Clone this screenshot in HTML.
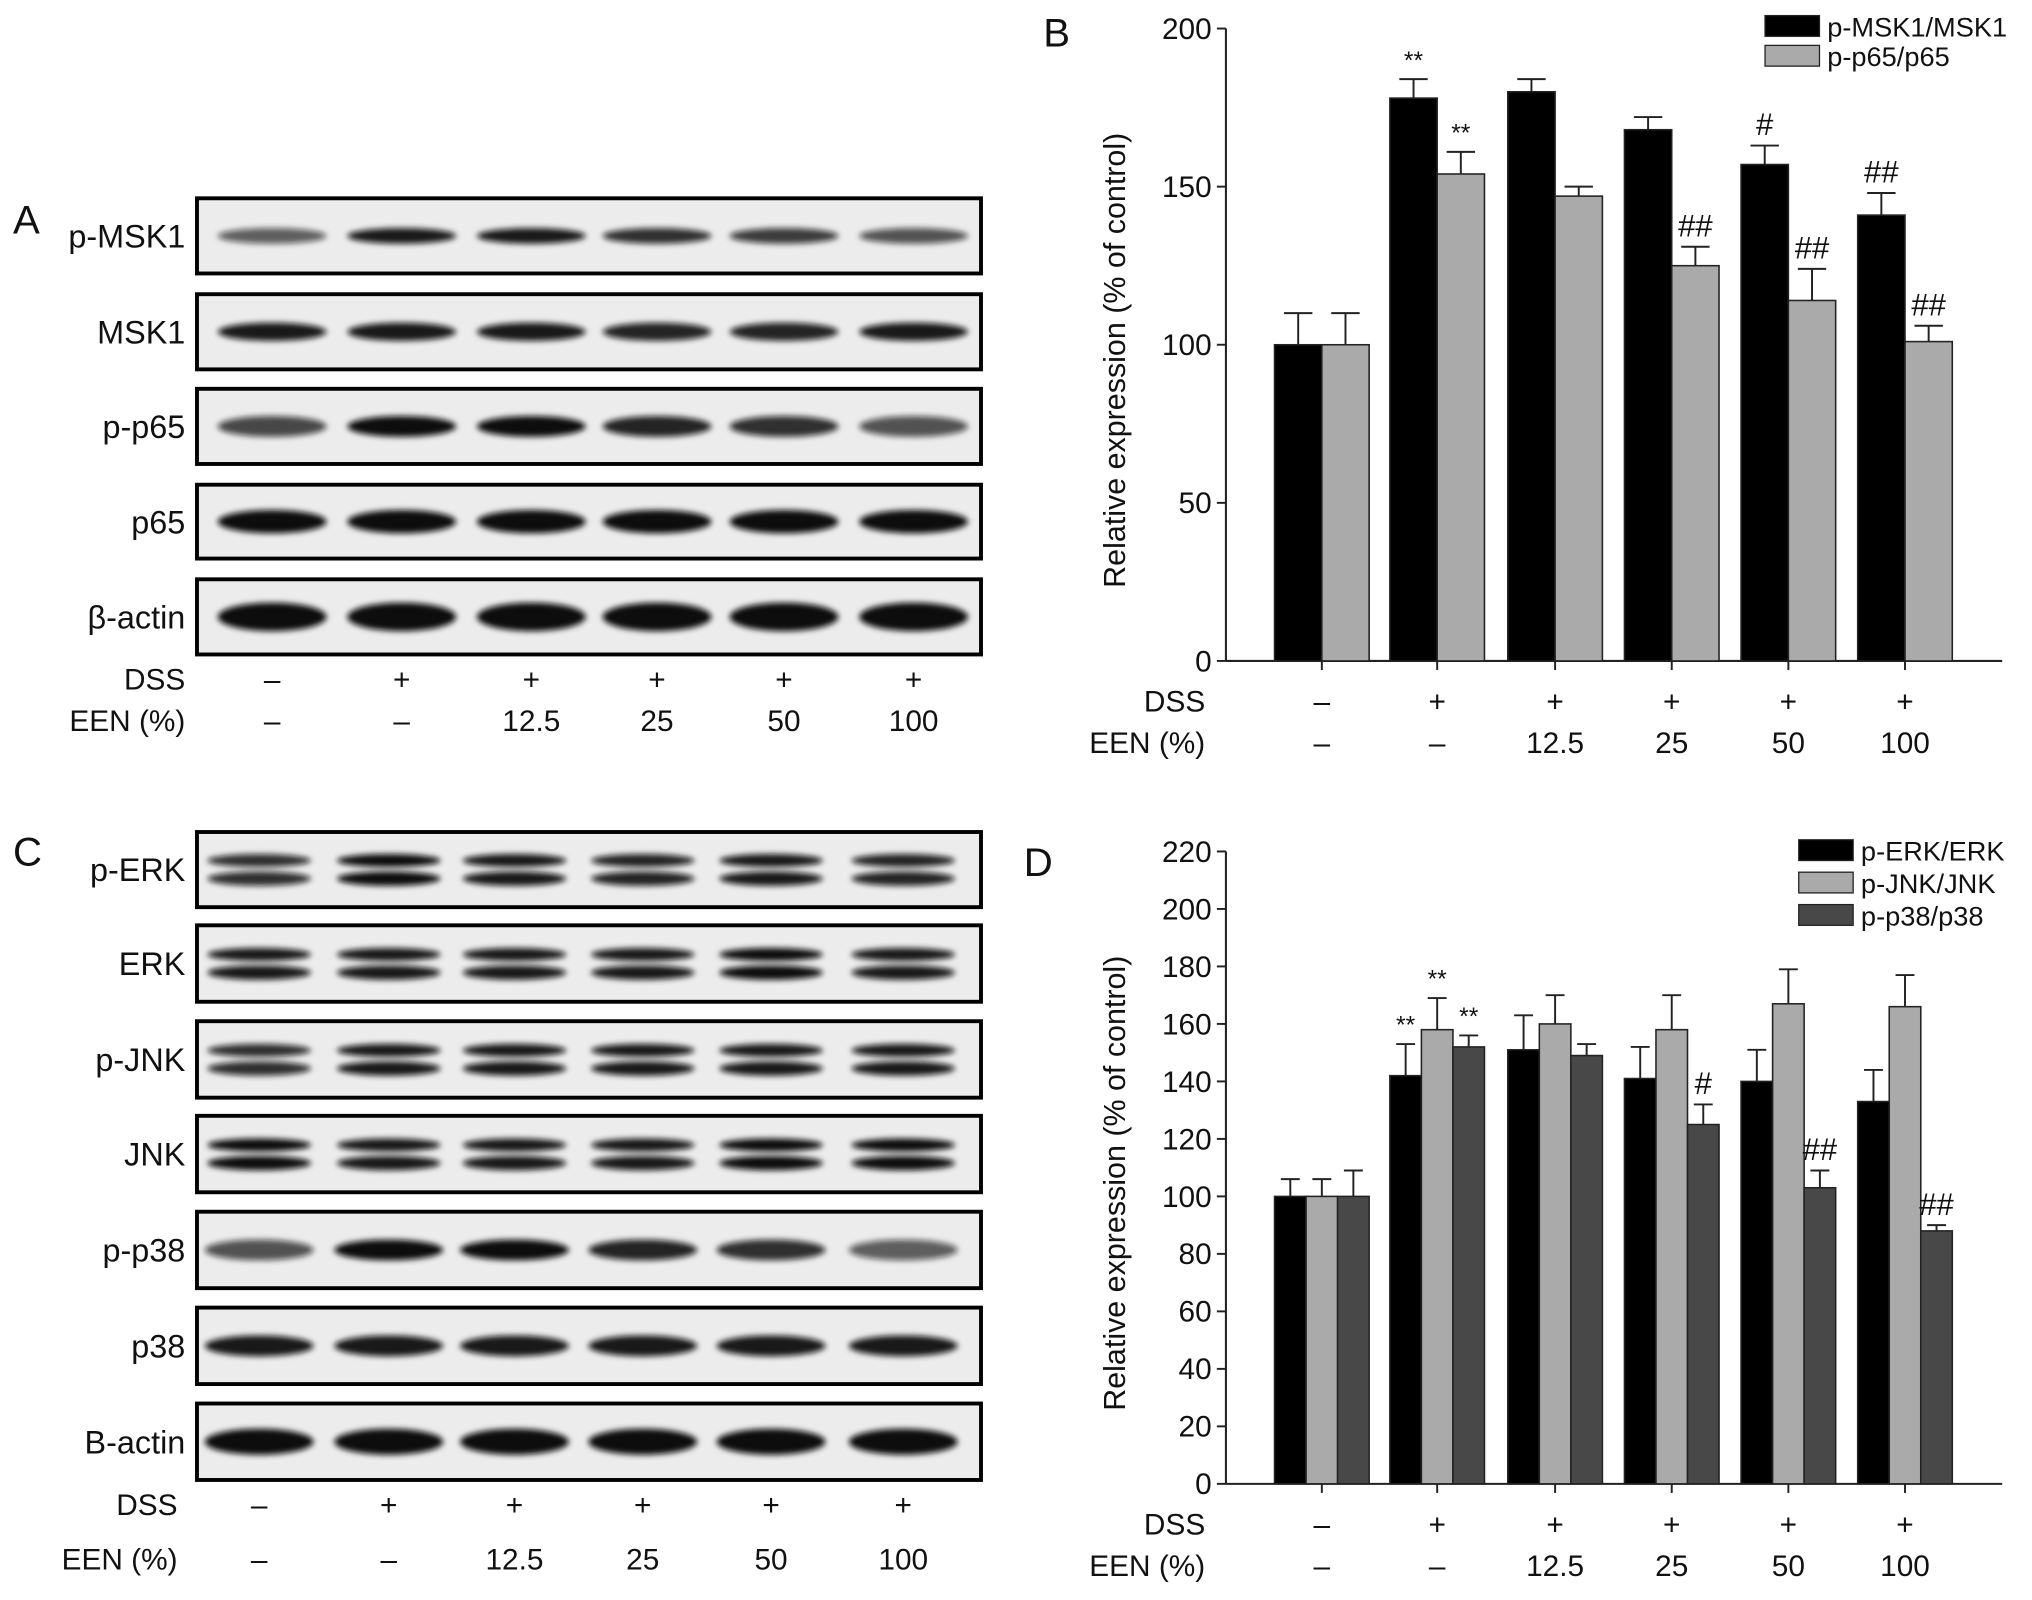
<!DOCTYPE html>
<html><head><meta charset="utf-8">
<style>
html,body{margin:0;padding:0;background:#fff;}
svg{display:block;font-family:"Liberation Sans",sans-serif;}
</style></head>
<body>
<svg id="fig" xmlns="http://www.w3.org/2000/svg" width="2032" height="1600" viewBox="0 0 1568 1234.6">
<defs>
<filter id="blur" x="-20%" y="-100%" width="140%" height="300%"><feGaussianBlur stdDeviation="2.2"/></filter>
</defs>
<g id="root"></g>
</svg>
<script>
// ---- Chart B data ----
const bGroups = ["1","2","3","4","5","6"];
const bMSK = [100,178,180,168,157,141];
const bMSKerr = [10,6,4,4,6,7];
const bP65 = [100,154,147,125,114,101];
const bP65err = [10,7,3,6,10,5];
const bTicks = [0,50,100,150,200];
// ---- Chart D data ----
const dERK = [100,142,151,141,140,133];
const dERKerr = [6,11,12,11,11,11];
const dJNK = [100,158,160,158,167,166];
const dJNKerr = [6,11,10,12,12,11];
const dP38 = [100,152,149,125,103,88];
const dP38err = [9,4,4,7,6,2];
const dTicks = [0,20,40,60,80,100,120,140,160,180,200,220];
const dssLabels = ["\u2013","+","+","+","+","+"];
const eenLabels = ["\u2013","\u2013","12.5","25","50","100"];

const NS="http://www.w3.org/2000/svg";
const root=document.getElementById('root');
function mk(tag,attrs,parent){const e=document.createElementNS(NS,tag);for(const k in attrs)e.setAttribute(k,attrs[k]);(parent||root).appendChild(e);return e;}
function txt(x,y,s,size,anchor,parent){const t=mk('text',{x:x,y:y,'font-size':size,'text-anchor':anchor||'middle',fill:'#111'},parent);t.textContent=s;return t;}

function barChart(cfg){
  const g=mk('g',{});
  
  
  const x0=946,xEnd=1545,y0=cfg.y0,yTop=cfg.yTop,max=cfg.max;
  const yS=v=>y0-(v/max)*(y0-yTop);
  const centers=[1020,1109,1200,1290,1380,1470];
  mk('line',{x1:x0,y1:yTop,x2:x0,y2:y0,stroke:'#222','stroke-width':1.6},g);
  mk('line',{x1:x0,y1:y0,x2:xEnd,y2:y0,stroke:'#222','stroke-width':1.6},g);
  cfg.ticks.forEach(t=>{
    const y=yS(t);
    mk('line',{x1:x0-7,y1:y,x2:x0,y2:y,stroke:'#222','stroke-width':1.5},g);
    const l=txt(x0-11,y+8,String(t),23,'end',g);
    
    
  });
  const n=cfg.series.length, total=73, bw=total/n;
  cfg.series.forEach((s,si)=>{
    s.vals.forEach((v,i)=>{
      const bx=centers[i]-total/2+si*bw;
      const top=yS(v), et=yS(v+s.err[i]);
      const r=mk('rect',{x:bx,y:top,width:bw,height:y0-top,fill:s.color,stroke:'#222','stroke-width':1.2},g);
      
      
      const cx=bx+bw/2;
      mk('line',{x1:cx,y1:top,x2:cx,y2:et,stroke:'#222','stroke-width':1.5},g);
      mk('line',{x1:cx-bw*0.3,y1:et,x2:cx+bw*0.3,y2:et,stroke:'#222','stroke-width':1.5},g);
      if(s.ann[i]){
        const a=txt(cx,et-8,s.ann[i],s.ann[i].startsWith('*')?19:24,'middle',g);
        
        
      }
    });
  });
  centers.forEach(c=>mk('line',{x1:c,y1:y0,x2:c,y2:y0+7,stroke:'#222','stroke-width':1.5},g));
  txt(930,y0+39,'DSS',23,'end',g);
  txt(930,y0+71,'EEN (%)',23,'end',g);
  centers.forEach((c,i)=>{txt(c,y0+39,dssLabels[i],23,'middle',g);txt(c,y0+71,eenLabels[i],23,'middle',g);});
  const yl=mk('text',{x:0,y:0,'font-size':23.5,'text-anchor':'middle',fill:'#111',transform:`translate(868,${(y0+yTop)/2+12}) rotate(-90)`},g);
  yl.textContent='Relative expression (% of control)';
  
  
  cfg.series.forEach((s,si)=>{
    const ly=cfg.legY+si*cfg.legStep;
    const lg=mk('g',{},g);
    
    
    mk('rect',{x:cfg.legX,y:ly-8,width:42,height:16,fill:s.color,stroke:'#222','stroke-width':1},lg);
    txt(cfg.legX+48,ly+8,s.label,21,'start',lg);
  });
  const L=txt(cfg.letterX,cfg.letterY,cfg.letter,31,'start',g);
  
  
}

barChart({name:'chart-b',y0:510,yTop:22,max:200,ticks:bTicks,legX:1362,legY:20,legStep:23,letter:'B',letterX:805,letterY:36,
  series:[
    {key:'p-msk1',label:'p-MSK1/MSK1',color:'#000',vals:bMSK,err:bMSKerr,ann:['','**','','','#','##']},
    {key:'p-p65',label:'p-p65/p65',color:'#aaa',vals:bP65,err:bP65err,ann:['','**','','##','##','##']}
  ]});
barChart({name:'chart-d',y0:1145,yTop:657,max:220,ticks:dTicks,legX:1388,legY:656,legStep:25,letter:'D',letterX:790,letterY:676,
  series:[
    {key:'p-erk',label:'p-ERK/ERK',color:'#000',vals:dERK,err:dERKerr,ann:['','**','','','','']},
    {key:'p-jnk',label:'p-JNK/JNK',color:'#aaa',vals:dJNK,err:dJNKerr,ann:['','**','','','','']},
    {key:'p-p38',label:'p-p38/p38',color:'#484848',vals:dP38,err:dP38err,ann:['','**','','#','##','##']}
  ]});

function blot(name,label,y1,y2,lanes,intens,dbl,thick){
  const g=mk('g',{});
  
  
  mk('rect',{x:152,y:y1,width:605,height:y2-y1,fill:'#ececec',stroke:'#000','stroke-width':3},g);
  const mid=(y1+y2)/2;
  lanes.forEach((c,i)=>{
    const op=intens[i];
    if(dbl){
      mk('ellipse',{cx:c,cy:mid-7,rx:40,ry:5,fill:'#111','fill-opacity':op,filter:'url(#blur)'},g);
      mk('ellipse',{cx:c,cy:mid+7,rx:40,ry:5.5,fill:'#111','fill-opacity':op,filter:'url(#blur)'},g);
    }else{
      mk('ellipse',{cx:c,cy:mid,rx:42,ry:thick,fill:'#111','fill-opacity':op,filter:'url(#blur)'},g);
    }
  });
  txt(143,mid+9,label,25,'end',g);
}
const lanesA=[210,310,410,507,605,705];
blot('p-msk1','p-MSK1',153,211,lanesA,[0.65,0.95,0.95,0.85,0.8,0.7],false,6);
blot('msk1','MSK1',227,285,lanesA,[0.95,0.95,0.95,0.9,0.9,0.95],false,7);
blot('p-p65','p-p65',300,358,lanesA,[0.75,1,1,0.9,0.85,0.7],false,8);
blot('p65','p65',374,431,lanesA,[1,1,1,1,1,1],false,9);
blot('b-actin-a','β-actin',447,505,lanesA,[1,1,1,1,1,1],false,11);
const La=txt(10,180,'A',31,'start');
txt(143,532,'DSS',23,'end');txt(143,564,'EEN (%)',23,'end');
lanesA.forEach((c,i)=>{txt(c,532,dssLabels[i],23);txt(c,564,eenLabels[i],23);});

const lanesC=[200,300,397,496,595,697];
blot('p-erk','p-ERK',642,700,lanesC,[0.85,1,0.95,0.9,0.95,0.9],true,0);
blot('erk','ERK',714,773,lanesC,[0.95,0.95,0.95,0.95,1,0.95],true,0);
blot('p-jnk','p-JNK',788,847,lanesC,[0.85,0.95,0.95,0.95,0.95,0.95],true,0);
blot('jnk','JNK',861,920,lanesC,[1,0.95,0.95,0.95,1,1],true,0);
blot('p-p38','p-p38',935,994,lanesC,[0.7,1,1,0.9,0.85,0.65],false,8);
blot('p38','p38',1009,1068,lanesC,[0.95,0.95,0.95,0.95,0.95,0.95],false,8);
blot('b-actin-c','B-actin',1083,1142,lanesC,[1,1,1,1,1,1],false,10);
const Lc=txt(10,668,'C',31,'start');
txt(137,1169,'DSS',23,'end');txt(137,1211,'EEN (%)',23,'end');
lanesC.forEach((c,i)=>{txt(c,1169,dssLabels[i],23);txt(c,1211,eenLabels[i],23);});
</script>
</body></html>
